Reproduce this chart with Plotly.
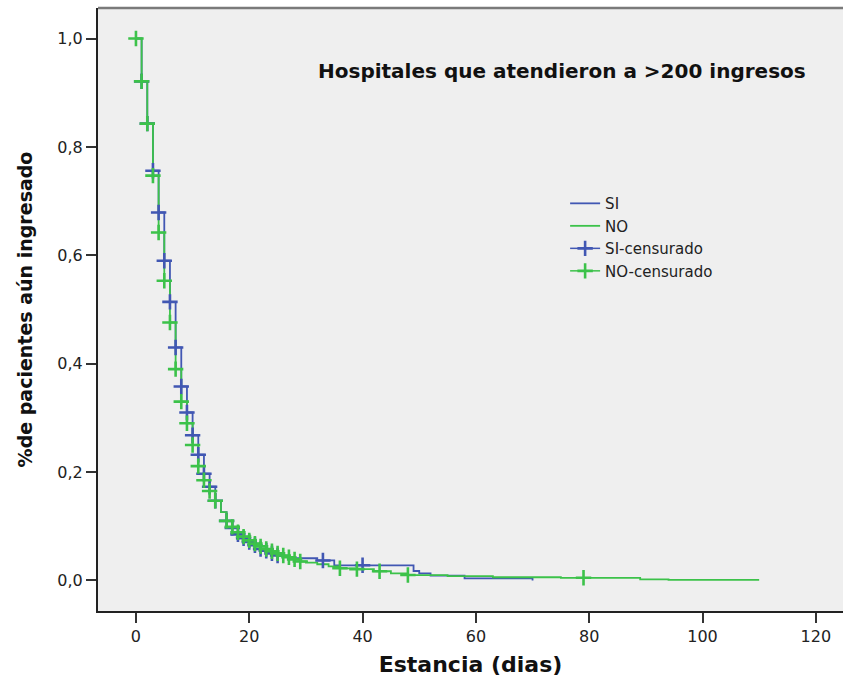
import plotly.graph_objects as go

# Kaplan-Meier estimates: time (days) of each step and survival after the step
si_times = [0, 1, 2, 3, 4, 5, 6, 7, 8, 9, 10, 11, 12, 13, 14, 15, 16, 17, 18, 19,
            20, 21, 22, 23, 24, 25, 26, 27, 32, 35, 49, 50, 52, 58, 70]
si_surv = [1.0, 0.921, 0.843, 0.756, 0.679, 0.590, 0.514, 0.430, 0.358, 0.310,
           0.268, 0.232, 0.197, 0.173, 0.147, 0.126, 0.110, 0.097, 0.085, 0.078,
           0.071, 0.065, 0.058, 0.055, 0.050, 0.046, 0.043, 0.041, 0.037, 0.028,
           0.0175, 0.013, 0.009, 0.004, 0.0]

no_times = [0, 1, 2, 3, 4, 5, 6, 7, 8, 9, 10, 11, 12, 13, 14, 15, 16, 17, 18, 19,
            20, 21, 22, 23, 24, 25, 26, 27, 28, 29, 30, 32, 34, 36, 39, 42, 45, 48,
            55, 63, 75, 89, 94, 110]
no_surv = [1.0, 0.921, 0.843, 0.747, 0.642, 0.553, 0.476, 0.390, 0.330, 0.290,
           0.250, 0.211, 0.185, 0.165, 0.147, 0.126, 0.110, 0.099, 0.089, 0.081,
           0.074, 0.068, 0.063, 0.058, 0.054, 0.050, 0.046, 0.043, 0.039, 0.035,
           0.033, 0.030, 0.026, 0.0225, 0.021, 0.017, 0.013, 0.010, 0.008, 0.006,
           0.005, 0.0022, 0.0012, 0.0012]

# Censored observation times
si_cens = [1, 2, 3, 4, 5, 6, 7, 8, 9, 10, 11, 12, 13, 14, 16, 17, 18, 19, 20, 21,
           22, 23, 24, 25, 33, 40]
no_cens = [0, 1, 2, 3, 4, 5, 6, 7, 8, 9, 10, 11, 12, 13, 14, 16, 17, 18, 19, 20,
           21, 22, 23, 24, 25, 26, 27, 28, 29, 36, 39, 43, 48, 79]

x_ticks = [0, 20, 40, 60, 80, 100, 120]
y_ticks = [0.0, 0.2, 0.4, 0.6, 0.8, 1.0]
y_tick_text = ["0,0", "0,2", "0,4", "0,6", "0,8", "1,0"]

BLUE = "#4157b3"
GREEN = "#3cc24a"
FONT = "DejaVu Sans"


def surv_at(times, surv, t):
    """Step-function value of the KM curve at time t."""
    val = surv[0]
    for ti, si in zip(times, surv):
        if ti <= t:
            val = si
        else:
            break
    return val


def censor_xy(times, surv, cens):
    # points separated by gaps so no segment is drawn between marks
    xs, ys = [], []
    for t in cens:
        xs += [t, None]
        ys += [surv_at(times, surv, t), None]
    return xs, ys


fig = go.Figure()

fig.add_trace(go.Scatter(x=si_times, y=si_surv, mode="lines", name="SI",
                         line=dict(color=BLUE, width=1.8, shape="hv")))
fig.add_trace(go.Scatter(x=no_times, y=no_surv, mode="lines", name="NO",
                         line=dict(color=GREEN, width=1.8, shape="hv")))

cx, cy = censor_xy(si_times, si_surv, si_cens)
fig.add_trace(go.Scatter(x=cx, y=cy, mode="lines+markers", name="SI-censurado",
                         connectgaps=False,
                         line=dict(color=BLUE, width=1.5),
                         marker=dict(symbol="cross-thin", size=11,
                                     line=dict(color=BLUE, width=2.6))))
cx, cy = censor_xy(no_times, no_surv, no_cens)
fig.add_trace(go.Scatter(x=cx, y=cy, mode="lines+markers", name="NO-censurado",
                         connectgaps=False,
                         line=dict(color=GREEN, width=1.5),
                         marker=dict(symbol="cross-thin", size=11,
                                     line=dict(color=GREEN, width=2.6))))

fig.update_layout(
    width=843, height=680,
    margin=dict(l=98, r=0, t=8, b=69),
    paper_bgcolor="white",
    plot_bgcolor="#efefef",
    font=dict(family=FONT, color="#222222", size=15),
    showlegend=True,
    legend=dict(x=0.627, y=0.703, xanchor="left", yanchor="top",
                bgcolor="rgba(0,0,0,0)", borderwidth=0,
                font=dict(family=FONT, size=15, color="#222222"),
                itemwidth=30, tracegroupgap=0),
    xaxis=dict(range=[-6.7, 124.8], tickvals=x_ticks, ticks="outside",
               ticklen=10, tickwidth=2, tickcolor="#333333",
               showgrid=False, zeroline=False, showline=True,
               linecolor="#222222", linewidth=2,
               tickfont=dict(size=16),
               title=dict(text="<b>Estancia (dias)</b>",
                          font=dict(size=22, color="#111111"), standoff=11)),
    yaxis=dict(range=[-0.0563, 1.0563], tickvals=y_ticks, ticktext=y_tick_text,
               ticks="outside", ticklen=10, tickwidth=2, tickcolor="#333333",
               showgrid=False, zeroline=False, showline=True,
               linecolor="#222222", linewidth=2,
               tickfont=dict(size=16),
               title=dict(text="<b>%de pacientes aún ingresado</b>",
                          font=dict(size=19, color="#111111"), standoff=20)),
    annotations=[dict(text="<b>Hospitales que atendieron a >200 ingresos</b>",
                      xref="paper", yref="paper", x=0.623, y=0.8955,
                      xanchor="center", yanchor="middle", showarrow=False,
                      font=dict(family=FONT, size=20, color="#111111"))],
    shapes=[dict(type="line", xref="paper", yref="paper", x0=0, x1=1, y0=1, y1=1,
                 line=dict(color="#7a7a7a", width=2.5))],
)

fig.write_html("out.html")
